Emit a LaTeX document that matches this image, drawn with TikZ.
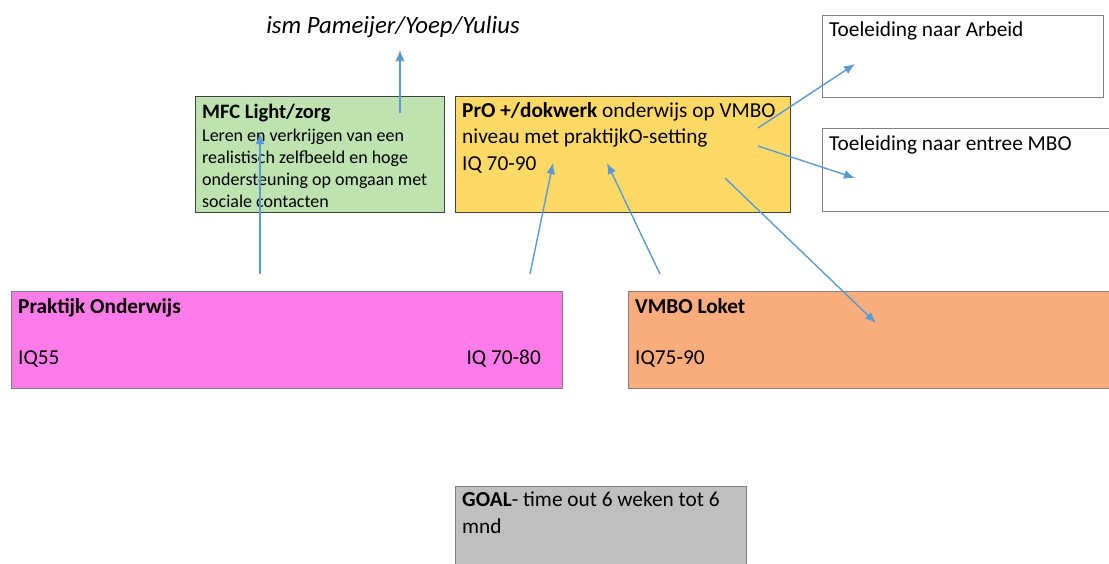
\documentclass[tikz,border=0pt]{standalone}
\usepackage{fontspec}
\setmainfont{Carlito}
\usetikzlibrary{arrows.meta}
\definecolor{mfcgreen}{HTML}{BEE3B0}
\definecolor{proyellow}{HTML}{FFD966}
\definecolor{pomagenta}{HTML}{FF7BE9}
\definecolor{vmboorange}{HTML}{FAAD7C}
\definecolor{goalgray}{HTML}{BFBFBF}
\definecolor{arrowblue}{HTML}{5B9BD5}
\definecolor{edgegray}{HTML}{404040}
\tikzset{
  boxnode/.style={draw=edgegray, line width=1pt, rectangle, inner sep=0pt, anchor=north west},
  txt/.style={inner sep=0pt, anchor=base west, align=left, font=\fontsize{21.3}{26.5}\selectfont},
  smalltxt/.style={inner sep=0pt, anchor=base west, align=left, font=\fontsize{18}{21.7}\selectfont},
  arr/.style={draw=arrowblue, line width=1.4pt, -{Latex[length=11pt,width=9pt]}}
}
\begin{document}
\begin{tikzpicture}[x=1pt,y=-1pt]
\useasboundingbox (0,0) rectangle (1109,563);
\clip (0,0) rectangle (1109,563);
% boxes
\node[boxnode, fill=mfcgreen, minimum width=249pt, minimum height=116pt] (mfc) at (195,96) {};
\node[boxnode, fill=proyellow, minimum width=335pt, minimum height=116pt] (pro) at (455,96) {};
\node[boxnode, fill=white, draw=gray, minimum width=281pt, minimum height=82pt] (arb) at (822,15) {};
\node[boxnode, fill=white, draw=gray, minimum width=300pt, minimum height=83pt] (mbo) at (822,128) {};
\node[boxnode, fill=pomagenta, draw=gray, minimum width=551pt, minimum height=97pt] (po) at (11,291) {};
\node[boxnode, fill=vmboorange, draw=gray, minimum width=500pt, minimum height=97pt] (vl) at (628,291) {};
\node[boxnode, fill=goalgray, draw=gray, minimum width=291pt, minimum height=100pt] (goal) at (455,486) {};
% texts (multi-line nodes: base = last line's baseline)
\node[inner sep=0pt, anchor=base, font=\fontsize{24.8}{28}\selectfont\itshape] (title) at (393,33) {ism Pameijer/Yoep/Yulius};
\node[inner sep=0pt, anchor=base west, font=\fontsize{20.5}{23}\selectfont\bfseries] (mfct) at (202,118) {MFC Light/zorg};
\node[smalltxt] (mfcb) at (202,207) {Leren en verkrijgen van een\\realistisch zelfbeeld en hoge\\ondersteuning op omgaan met\\sociale contacten};
\node[txt] (prot) at (462,170) {\textbf{PrO +/dokwerk} onderwijs op VMBO\\niveau met praktijkO-setting\\IQ 70-90};
\node[txt] (arbt) at (829,36) {Toeleiding naar Arbeid};
\node[txt] (mbot) at (829,150) {Toeleiding naar entree MBO};
\node[txt, font=\fontsize{21.3}{26.5}\selectfont\bfseries] (pot) at (18,313) {Praktijk Onderwijs};
\node[txt] (po1) at (18,364) {IQ55};
\node[txt, anchor=base east] (po2) at (541,364) {IQ 70-80};
\node[txt, font=\fontsize{21.3}{26.5}\selectfont\bfseries] (vlt) at (635,313) {VMBO Loket};
\node[txt] (vl1) at (635,364) {IQ75-90};
\node[txt] (goalt) at (462,533) {\textbf{GOAL}- time out 6 weken tot 6\\mnd};
% arrow end points
\coordinate (a1s) at (400,113); \coordinate (a1e) at (400,50);
\coordinate (a2s) at (260,274); \coordinate (a2e) at (260,133);
\coordinate (a3s) at (530,274); \coordinate (a3e) at (553,163);
\coordinate (a4s) at (660,274); \coordinate (a4e) at (607,163);
\coordinate (a5s) at (758,128); \coordinate (a5e) at (855,64);
\coordinate (a6s) at (758,146); \coordinate (a6e) at (855,178);
\coordinate (a7s) at (725,178); \coordinate (a7e) at (876,323);
\draw[arr] (a1s) -- (a1e);
\draw[arr] (a2s) -- (a2e);
\draw[arr] (a3s) -- (a3e);
\draw[arr] (a4s) -- (a4e);
\draw[arr] (a5s) -- (a5e);
\draw[arr] (a6s) -- (a6e);
\draw[arr] (a7s) -- (a7e);
\end{tikzpicture}
\end{document}
